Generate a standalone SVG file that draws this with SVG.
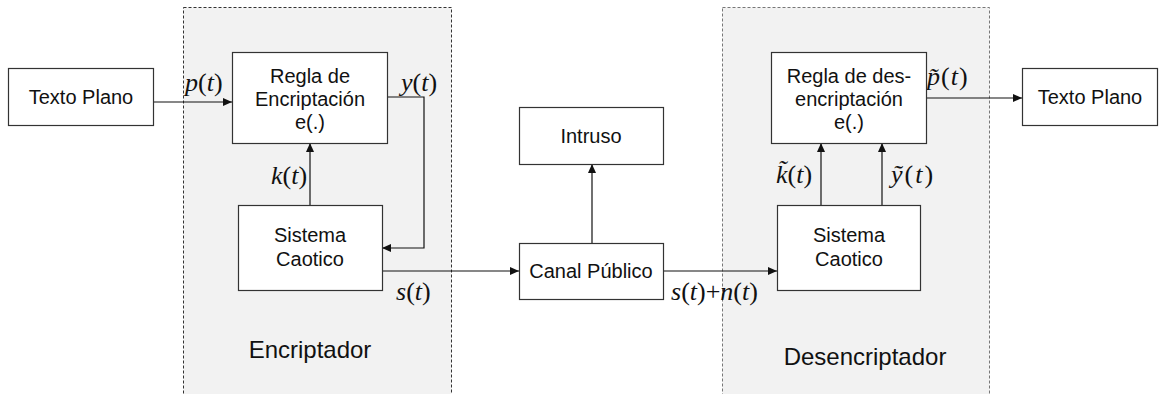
<svg xmlns="http://www.w3.org/2000/svg" width="1159" height="394" viewBox="0 0 1159 394">
<style>
.grp{fill:#f2f2f2;stroke-dasharray:3,2;stroke-width:1}
.box{fill:#fff;stroke:#333;stroke-width:1.2}
.t{font-family:"Liberation Sans",Arial,sans-serif;font-size:20px;fill:#111;text-anchor:middle}
.lbl{font-family:"Liberation Sans",Arial,sans-serif;font-size:24px;fill:#111;text-anchor:middle}
.m{font-family:"Liberation Serif","Times New Roman",serif;font-size:26px;fill:#111}
.i{font-style:italic}
.c{fill:none;stroke:#111;stroke-width:1.2}
</style>
<defs>
<marker id="ah" markerUnits="userSpaceOnUse" markerWidth="10" markerHeight="8" refX="9" refY="4" orient="auto">
<path d="M0,0 L9,4 L0,8 z" fill="#111"/>
</marker>
</defs>
<g id="encriptador">
<rect class="grp" x="183.5" y="7.5" width="268" height="400" stroke="#333"/>
<text class="lbl" x="310" y="358">Encriptador</text>
</g>
<g id="desencriptador">
<rect class="grp" x="722.5" y="7.5" width="267" height="400" stroke="#777"/>
<text class="lbl" x="865" y="365">Desencriptador</text>
</g>
<g id="connectors">
<path class="c" d="M153,102 H232" marker-end="url(#ah)"/>
<path class="c" d="M387,97 H424 V248 H382" marker-end="url(#ah)"/>
<path class="c" d="M310,205 V143" marker-end="url(#ah)"/>
<path class="c" d="M382,271 H519" marker-end="url(#ah)"/>
<path class="c" d="M592,243 V164" marker-end="url(#ah)"/>
<path class="c" d="M663,271 H777" marker-end="url(#ah)"/>
<path class="c" d="M821,205 V143" marker-end="url(#ah)"/>
<path class="c" d="M882,205 V143" marker-end="url(#ah)"/>
<path class="c" d="M926,98 H1022" marker-end="url(#ah)"/>
<text class="m" x="185" y="91"><tspan class="i">p</tspan>(<tspan class="i">t</tspan>)</text>
<text class="m" x="401" y="91"><tspan class="i">y</tspan>(<tspan class="i">t</tspan>)</text>
<text class="m" x="271" y="184"><tspan class="i">k</tspan>(<tspan class="i">t</tspan>)</text>
<text class="m" x="396" y="300"><tspan class="i">s</tspan>(<tspan class="i">t</tspan>)</text>
<text class="m" x="671" y="300"><tspan class="i">s</tspan>(<tspan class="i">t</tspan>)+<tspan class="i">n</tspan>(<tspan class="i">t</tspan>)</text>
<text class="m" x="776" y="183"><tspan class="i">k̃</tspan>(<tspan class="i">t</tspan>)</text>
<text class="m" x="891" y="183" letter-spacing="2"><tspan class="i">ỹ</tspan>(<tspan class="i">t</tspan>)</text>
<text class="m" x="927" y="85" letter-spacing="1"><tspan class="i">p̃</tspan>(<tspan class="i">t</tspan>)</text>
</g>
<g id="texto-plano-in">
<rect class="box" x="8.5" y="68.5" width="145" height="57"/>
<text class="t" x="81" y="104">Texto Plano</text>
</g>
<g id="regla-enc">
<rect class="box" x="232.5" y="52.5" width="155" height="91"/>
<text class="t" x="310" y="83">Regla de</text>
<text class="t" x="310" y="106">Encriptación</text>
<text class="t" x="310" y="129">e(.)</text>
</g>
<g id="sistema-enc">
<rect class="box" x="238.5" y="205.5" width="144" height="85"/>
<text class="t" x="310" y="242">Sistema</text>
<text class="t" x="310" y="266">Caotico</text>
</g>
<g id="intruso">
<rect class="box" x="519.5" y="107.5" width="144" height="57"/>
<text class="t" x="591" y="143">Intruso</text>
</g>
<g id="canal">
<rect class="box" x="519.5" y="243.5" width="144" height="56"/>
<text class="t" x="591" y="278">Canal Público</text>
</g>
<g id="regla-des">
<rect class="box" x="771.5" y="52.5" width="155" height="91"/>
<text class="t" x="849" y="83">Regla de des-</text>
<text class="t" x="849" y="106">encriptación</text>
<text class="t" x="849" y="129">e(.)</text>
</g>
<g id="sistema-des">
<rect class="box" x="777.5" y="205.5" width="143" height="85"/>
<text class="t" x="849" y="242">Sistema</text>
<text class="t" x="849" y="266">Caotico</text>
</g>
<g id="texto-plano-out">
<rect class="box" x="1022.5" y="68.5" width="135" height="57"/>
<text class="t" x="1090" y="104">Texto Plano</text>
</g>
</svg>
